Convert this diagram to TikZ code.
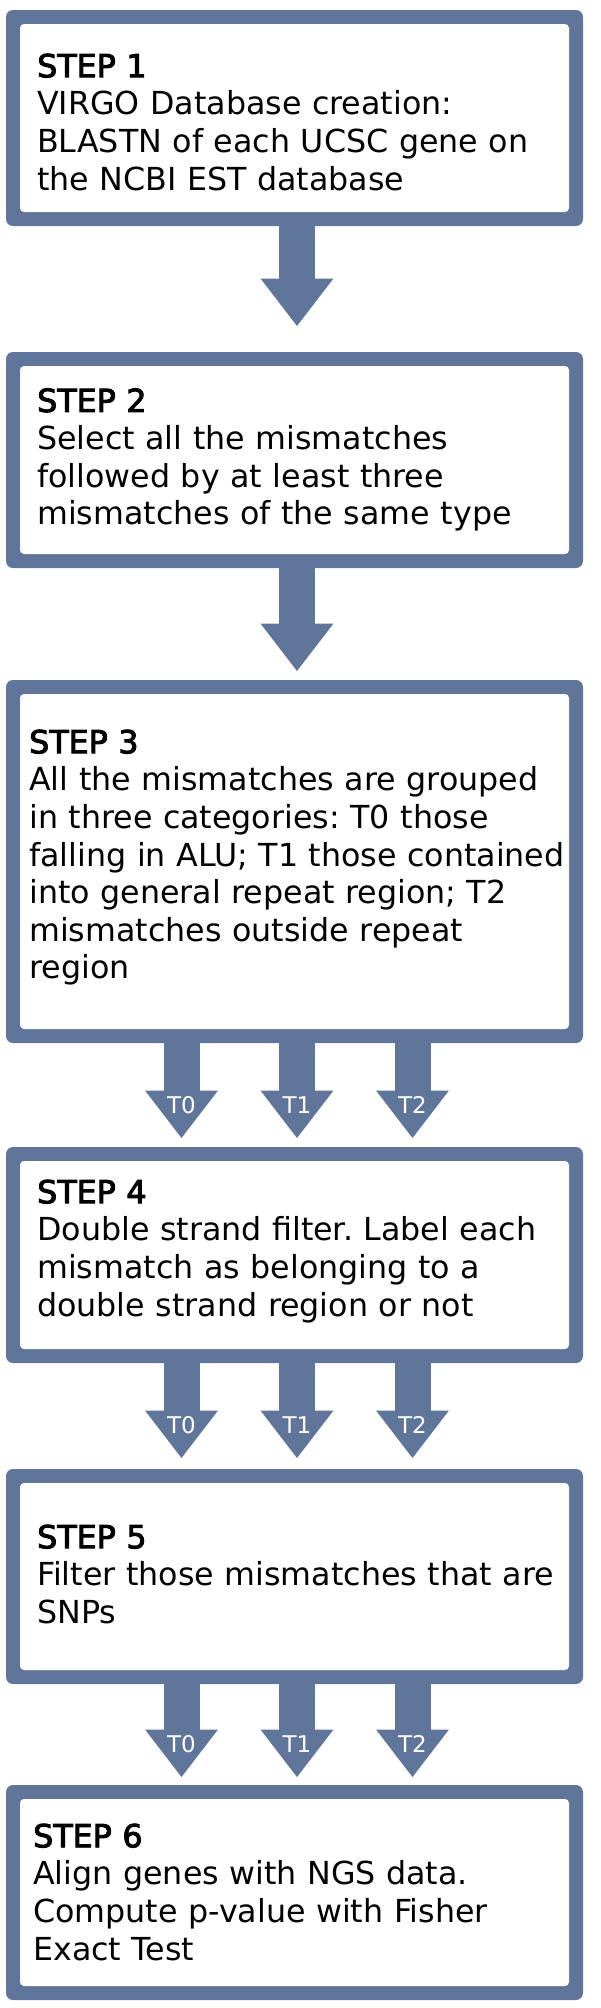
\documentclass[tikz,border=0pt]{standalone}
\usepackage{fontspec}
\setmainfont{DejaVu Sans}
\newfontface\stepfont{DejaVu Sans}[FakeBold=3]
\usepackage{xcolor}
\usepackage{tikz}
\usetikzlibrary{arrows.meta}
\definecolor{stepblue}{RGB}{95,118,154}
\frenchspacing

\begin{document}
\begin{tikzpicture}[
    x=1pt, y=1pt,
    stepbox/.style={rectangle, fill=stepblue, rounded corners=7pt, minimum width=577pt, inner sep=0pt, outer sep=0pt,
        path picture={\fill[white, rounded corners=4pt] ([shift={(14pt,14pt)}]path picture bounding box.south west) rectangle ([shift={(-14pt,-14pt)}]path picture bounding box.north east);}},
    steptext/.style={anchor=north west, inner sep=0pt, text width=560pt, align=left, font=\fontsize{31.7}{37.6}\selectfont},
    fatarrow/.style={stepblue, line width=36pt, -{Triangle[width=73pt, length=47.5pt, line width=0pt]}},
    tlabel/.style={anchor=base, inner sep=0pt, text=white, font=\fontsize{23}{23}\selectfont}
]
    % Page frame
    \useasboundingbox (0,0) rectangle (600,-2008);

    % Step boxes
    \node[stepbox, minimum height=216pt] (step1) at (294.5,-118) {};
    \node[stepbox, minimum height=216pt] (step2) at (294.5,-460) {};
    \node[stepbox, minimum height=363pt] (step3) at (294.5,-861.5) {};
    \node[stepbox, minimum height=216pt] (step4) at (294.5,-1255) {};
    \node[stepbox, minimum height=215pt] (step5) at (294.5,-1576.5) {};
    \node[stepbox, minimum height=215pt] (step6) at (294.5,-1892.5) {};

    % Step texts
    \node[steptext] (txt1) at (37,-53.5) {{\stepfont STEP 1}\\VIRGO Database creation:\\BLASTN of each UCSC gene on\\the NCBI EST database};
    \node[steptext] (txt2) at (37,-388.2) {{\stepfont STEP 2}\\Select all the mismatches\\followed by at least three\\mismatches of the same type};
    \node[steptext] (txt3) at (29,-729.5) {{\stepfont STEP 3}\\All the mismatches are grouped\\in three categories: T0 those\\falling in ALU; T1 those contained\\into general repeat region; T2\\mismatches outside repeat\\region};
    \node[steptext] (txt4) at (37,-1179.5) {{\stepfont STEP 4}\\Double strand filter. Label each\\mismatch as belonging to a\\double strand region or not};
    \node[steptext] (txt5) at (37,-1524.5) {{\stepfont STEP 5}\\Filter those mismatches that are\\SNPs};
    \node[steptext] (txt6) at (33,-1823.5) {{\stepfont STEP 6}\\Align genes with NGS data.\\Compute p-value with Fisher\\Exact Test};

    % Step 1 to step 2
    \draw[fatarrow] ([xshift=2.5pt, yshift=1pt]step1.south) -- ([xshift=2.5pt, yshift=26pt]step2.north);

    % Step 2 to step 3
    \draw[fatarrow] ([xshift=2.5pt, yshift=1pt]step2.south) -- ([xshift=2.5pt, yshift=9pt]step3.north);

    % Step 3 to step 4 (T0, T1, T2)
    \coordinate (tip3a) at ([xshift=-113pt, yshift=9pt]step4.north);
    \coordinate (tip3b) at ([xshift=2.5pt, yshift=9pt]step4.north);
    \coordinate (tip3c) at ([xshift=118pt, yshift=9pt]step4.north);
    \draw[fatarrow] ([xshift=-113pt, yshift=1pt]step3.south) -- (tip3a);
    \draw[fatarrow] ([xshift=2.5pt, yshift=1pt]step3.south) -- (tip3b);
    \draw[fatarrow] ([xshift=118pt, yshift=1pt]step3.south) -- (tip3c);
    \node[tlabel] (lab3a) at ([yshift=25pt]tip3a) {T0};
    \node[tlabel] (lab3b) at ([yshift=25pt]tip3b) {T1};
    \node[tlabel] (lab3c) at ([yshift=25pt]tip3c) {T2};

    % Step 4 to step 5 (T0, T1, T2)
    \coordinate (tip4a) at ([xshift=-113pt, yshift=11pt]step5.north);
    \coordinate (tip4b) at ([xshift=2.5pt, yshift=11pt]step5.north);
    \coordinate (tip4c) at ([xshift=118pt, yshift=11pt]step5.north);
    \draw[fatarrow] ([xshift=-113pt, yshift=1pt]step4.south) -- (tip4a);
    \draw[fatarrow] ([xshift=2.5pt, yshift=1pt]step4.south) -- (tip4b);
    \draw[fatarrow] ([xshift=118pt, yshift=1pt]step4.south) -- (tip4c);
    \node[tlabel] (lab4a) at ([yshift=25pt]tip4a) {T0};
    \node[tlabel] (lab4b) at ([yshift=25pt]tip4b) {T1};
    \node[tlabel] (lab4c) at ([yshift=25pt]tip4c) {T2};

    % Step 5 to step 6 (T0, T1, T2)
    \coordinate (tip5a) at ([xshift=-113pt, yshift=8pt]step6.north);
    \coordinate (tip5b) at ([xshift=2.5pt, yshift=8pt]step6.north);
    \coordinate (tip5c) at ([xshift=118pt, yshift=8pt]step6.north);
    \draw[fatarrow] ([xshift=-113pt, yshift=1pt]step5.south) -- (tip5a);
    \draw[fatarrow] ([xshift=2.5pt, yshift=1pt]step5.south) -- (tip5b);
    \draw[fatarrow] ([xshift=118pt, yshift=1pt]step5.south) -- (tip5c);
    \node[tlabel] (lab5a) at ([yshift=25pt]tip5a) {T0};
    \node[tlabel] (lab5b) at ([yshift=25pt]tip5b) {T1};
    \node[tlabel] (lab5c) at ([yshift=25pt]tip5c) {T2};

\end{tikzpicture}
\end{document}
